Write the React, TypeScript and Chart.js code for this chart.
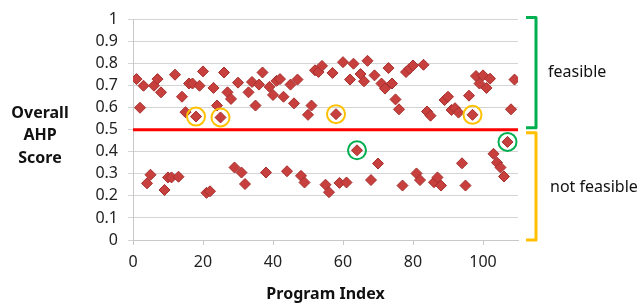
import React, { useEffect, useRef } from "react";
import { Chart, registerables } from "chart.js";

Chart.register(...registerables);

// Program indices and their overall AHP scores
const programIndex = [
  1, 2, 3, 4, 5, 6, 7, 8, 9, 10, 11, 12, 13, 14, 15, 16, 17, 18, 19, 20,
  21, 22, 23, 24, 25, 26, 27, 28, 29, 30, 31, 32, 33, 34, 35, 36, 37, 38, 39, 40,
  41, 42, 43, 44, 45, 46, 47, 48, 49, 50, 51, 52, 53, 54, 55, 56, 57, 58, 59, 60,
  61, 62, 63, 64, 65, 66, 67, 68, 69, 70, 71, 72, 73, 74, 75, 76, 77, 78, 79, 80,
  81, 82, 83, 84, 85, 86, 87, 88, 89, 90, 91, 92, 93, 94, 95, 96, 97, 98, 99, 100,
  101, 102, 103, 104, 105, 106, 107, 108, 109,
];
const ahpScore = [
  0.73, 0.6, 0.7, 0.257, 0.296, 0.7, 0.73, 0.67, 0.227, 0.284,
  0.284, 0.75, 0.287, 0.65, 0.58, 0.71, 0.71, 0.56, 0.7, 0.765,
  0.214, 0.221, 0.69, 0.61, 0.556, 0.76, 0.67, 0.64, 0.329, 0.714,
  0.306, 0.254, 0.67, 0.717, 0.61, 0.705, 0.76, 0.306, 0.695, 0.658,
  0.722, 0.73, 0.65, 0.312, 0.705, 0.62, 0.728, 0.291, 0.261, 0.568,
  0.61, 0.77, 0.762, 0.79, 0.251, 0.217, 0.758, 0.571, 0.259, 0.807,
  0.261, 0.728, 0.8, 0.407, 0.753, 0.72, 0.813, 0.272, 0.747, 0.347,
  0.71, 0.687, 0.78, 0.71, 0.638, 0.593, 0.247, 0.762, 0.777, 0.792,
  0.302, 0.272, 0.795, 0.583, 0.564, 0.262, 0.284, 0.247, 0.635, 0.65,
  0.59, 0.598, 0.578, 0.348, 0.247, 0.655, 0.568, 0.744, 0.71, 0.747,
  0.69, 0.732, 0.391, 0.351, 0.329, 0.288, 0.445, 0.593, 0.728,
];
const yellowHighlight = [18, 25, 58, 97];
const greenHighlight = [64, 107];
const threshold = 0.5;
const xTicksMax = 110;
const yTitleLines = ["Overall", "AHP", "Score"];
const xTitle = "Program Index";
const feasibleLabel = "feasible";
const notFeasibleLabel = "not feasible";

const FONT = "'Noto Sans', 'Open Sans', sans-serif";

const scoreOf = (i: number) => ahpScore[programIndex.indexOf(i)];

const annotationPlugin = {
  id: "annotations",
  afterDraw(chart: any) {
    const ctx = chart.ctx as CanvasRenderingContext2D;
    const y = chart.scales.y;
    const area = chart.chartArea;
    ctx.save();
    // Y title (three lines)
    ctx.fillStyle = "#111";
    ctx.font = `bold 16px ${FONT}`;
    ctx.textAlign = "center";
    ctx.textBaseline = "middle";
    const midY = y.getPixelForValue(0.5) + 6;
    yTitleLines.forEach((t, k) => {
      ctx.fillText(t, 40, midY + (k - 1) * 22.5);
    });

    // brackets
    const bx0 = area.right + 8;
    const bx1 = area.right + 18;
    const drawBracket = (top: number, bottom: number, color: string) => {
      ctx.strokeStyle = color;
      ctx.lineWidth = 3;
      ctx.lineJoin = "round";
      ctx.beginPath();
      ctx.moveTo(bx0, top);
      ctx.lineTo(bx1, top);
      ctx.lineTo(bx1, bottom);
      ctx.lineTo(bx0, bottom);
      ctx.stroke();
    };
    drawBracket(y.getPixelForValue(1) - 2, y.getPixelForValue(0.5) - 2, "#00B050");
    drawBracket(y.getPixelForValue(0.5) + 3, y.getPixelForValue(0), "#FFC000");

    ctx.fillStyle = "#111";
    ctx.font = `16px ${FONT}`;
    ctx.textAlign = "left";
    ctx.textBaseline = "middle";
    ctx.fillText(feasibleLabel, bx1 + 12, y.getPixelForValue(0.76));
    ctx.fillText(notFeasibleLabel, bx1 + 14, y.getPixelForValue(0.24));
    ctx.restore();
  },
};

export default function App() {
  const ref = useRef<HTMLCanvasElement | null>(null);
  useEffect(() => {
    if (!ref.current) return;
    const points = programIndex.map((x, i) => ({ x, y: ahpScore[i] }));
    const chart = new Chart(ref.current, {
      type: "scatter",
      data: {
        datasets: [
          {
            label: "circles-yellow",
            data: yellowHighlight.map((x) => ({ x, y: scoreOf(x) })),
            pointStyle: "circle",
            pointRadius: 9,
            backgroundColor: "rgba(0,0,0,0)",
            borderColor: "#FFC000",
            borderWidth: 2,
            order: 0,
          },
          {
            label: "circles-green",
            data: greenHighlight.map((x) => ({ x, y: scoreOf(x) })),
            pointStyle: "circle",
            pointRadius: 9,
            backgroundColor: "rgba(0,0,0,0)",
            borderColor: "#00B050",
            borderWidth: 2,
            order: 0,
          },
          {
            label: "AHP",
            data: points,
            pointStyle: "rectRot",
            pointRadius: 5.5,
            backgroundColor: "#c8403e",
            borderColor: "#a52f2d",
            borderWidth: 1,
            order: 1,
          },
          {
            type: "line",
            label: "threshold",
            data: [
              { x: 0, y: threshold },
              { x: xTicksMax, y: threshold },
            ],
            borderColor: "#ff0000",
            borderWidth: 3,
            pointRadius: 0,
            order: 2,
          } as any,
        ],
      },
      options: {
        responsive: false,
        animation: false,
        events: [],
        layout: { padding: { left: 0, right: 126, top: 17, bottom: 0 } },
        plugins: { legend: { display: false }, tooltip: { enabled: false } },
        scales: {
          x: {
            type: "linear",
            min: 0,
            max: xTicksMax,
            border: { color: "#c8c8c8" },
            grid: { drawOnChartArea: false, tickLength: 5, color: "#c8c8c8" },
            ticks: {
              stepSize: 20,
              includeBounds: false,
              autoSkip: false,
              padding: 8,
              color: "#222",
              font: { family: FONT, size: 16 },
            },
            title: {
              display: true,
              text: xTitle,
              color: "#111",
              font: { family: FONT, size: 16, weight: "bold" },
              padding: { top: 4, bottom: 0 },
            },
            afterFit: (s: any) => {
              s.height = 64;
            },
          },
          y: {
            min: 0,
            max: 1,
            border: { color: "#c8c8c8" },
            grid: { color: "#d4d4d4", tickLength: 5 },
            ticks: {
              stepSize: 0.1,
              autoSkip: false,
              padding: 10,
              color: "#222",
              font: { family: FONT, size: 16 },
              callback: (v: any) => String(Number(Number(v).toFixed(1))),
            },
            afterFit: (s: any) => {
              s.width = 133;
            },
          },
        },
      },
      plugins: [annotationPlugin],
    });
    return () => chart.destroy();
  }, []);
  return (
    <div style={{ position: "fixed", left: 0, top: 0, width: 644, height: 304, background: "#fff" }}>
      <canvas ref={ref} width={644} height={304} />
    </div>
  );
}
